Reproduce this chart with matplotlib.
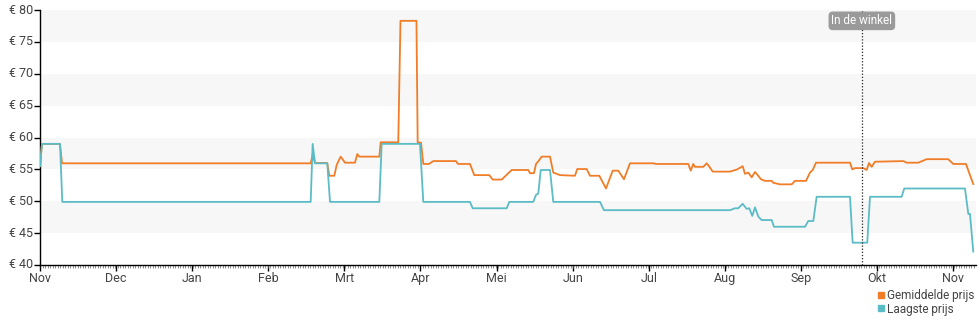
import matplotlib
matplotlib.use("Agg")
import matplotlib.pyplot as plt
from matplotlib.lines import Line2D

plt.rcParams['font.family'] = ['Roboto', 'DejaVu Sans']

# x = months since start (month ticks are evenly spaced in the source chart)
month_labels = ["Nov", "Dec", "Jan", "Feb", "Mrt", "Apr", "Mei", "Jun",
                "Jul", "Aug", "Sep", "Okt", "Nov"]

avg_x = [0.0, 0.026, 0.263, 0.289, 3.557, 3.583, 3.614, 3.775, 3.802, 3.867,
         3.899, 3.951, 4.008, 4.139, 4.170, 4.196, 4.459, 4.477, 4.708, 4.737,
         4.947, 4.963, 5.007, 5.037, 5.112, 5.168, 5.466, 5.493, 5.650, 5.707,
         5.904, 5.949, 6.067, 6.154, 6.198, 6.417, 6.439, 6.491, 6.518, 6.544,
         6.593, 6.702, 6.745, 6.833, 7.030, 7.060, 7.184, 7.227, 7.350, 7.438,
         7.526, 7.599, 7.674, 7.753, 8.059, 8.095, 8.519, 8.551, 8.585, 8.607,
         8.716, 8.761, 8.791, 8.840, 9.067, 9.163, 9.234, 9.264, 9.307, 9.352,
         9.396, 9.448, 9.474, 9.527, 9.615, 9.636, 9.724, 9.878, 9.921, 10.066,
         10.118, 10.154, 10.197, 10.644, 10.674, 10.710, 10.819, 10.863, 10.894,
         10.929, 10.972, 11.344, 11.389, 11.541, 11.652, 11.935, 12.001, 12.168,
         12.264]
avg_price = [55.5, 59.0, 59.0, 55.95, 55.95, 57.3, 56.0, 56.0, 54.0, 54.0,
             55.7, 57.0, 56.05, 56.05, 57.4, 57.0, 57.0, 59.25, 59.25, 78.3,
             78.3, 59.2, 59.2, 55.85, 55.85, 56.3, 56.3, 55.85, 55.85, 54.1,
             54.1, 53.4, 53.4, 54.4, 54.9, 54.9, 54.4, 54.4, 55.85, 56.2,
             57.0, 57.0, 54.5, 54.1, 54.0, 55.05, 55.05, 54.0, 54.0, 52.0,
             54.8, 54.8, 53.45, 55.95, 55.95, 55.85, 55.85, 54.8, 55.85, 55.4,
             55.4, 55.95, 55.5, 54.65, 54.65, 55.0, 55.5, 54.3, 54.5, 53.75,
             54.6, 53.85, 53.45, 53.2, 53.2, 52.9, 52.65, 52.65, 53.2, 53.2,
             54.5, 54.9, 56.05, 56.05, 55.0, 55.2, 55.2, 54.9, 56.0,
             55.4, 56.2, 56.3, 56.05, 56.05, 56.6, 56.6, 55.85, 55.85,
             52.7]

low_x = [0.0, 0.026, 0.263, 0.293, 3.557, 3.583, 3.614, 3.775, 3.811, 4.459,
         4.490, 4.993, 5.037, 5.650, 5.686, 6.133, 6.167, 6.482, 6.518, 6.548,
         6.580, 6.702, 6.745, 7.359, 7.411, 9.067, 9.133, 9.176, 9.234, 9.286,
         9.321, 9.360, 9.396, 9.439, 9.483, 9.615, 9.645, 10.053, 10.096, 10.162,
         10.206, 10.644, 10.679, 10.871, 10.907, 11.323, 11.357, 12.155, 12.199,
         12.221, 12.264]
low_price = [55.5, 59.0, 59.0, 49.9, 49.9, 59.0, 55.95, 55.95, 49.9, 49.9,
             59.0, 59.0, 49.9, 49.9, 48.9, 48.9, 49.9, 49.9, 51.0, 51.2,
             54.9, 54.9, 49.9, 49.9, 48.6, 48.6, 48.9, 48.9, 49.6, 48.8,
             48.9, 47.7, 49.05, 47.6, 47.05, 47.05, 46.0, 46.0, 46.9, 46.9,
             50.7, 50.7, 43.5, 43.5, 50.7, 50.7, 52.0, 52.0, 48.0,
             48.0, 42.1]

store_x = 10.80
store_label = "In de winkel"

orange = "#f07d28"
teal = "#5bbcc5"
text_col = "#444444"

fig = plt.figure(figsize=(9.8, 3.25), dpi=100)
ax = fig.add_axes([40 / 980, 60 / 325, 936 / 980, 255 / 325])

# alternating light bands
for lo in range(40, 80, 5):
    if (lo // 5) % 2 == 1:
        ax.axhspan(lo, lo + 5, color="#f7f7f7", zorder=0, lw=0)

ax.plot(avg_x, avg_price, color=orange, lw=1.3, zorder=3)
ax.plot(low_x, low_price, color=teal, lw=1.3, zorder=3)

ax.axvline(store_x, color="#222222", lw=0.9, ls=(0, (1, 1.5)), zorder=4)
ax.text(store_x, 78.3, store_label, ha="center", va="center", fontsize=8.5,
        color="white", zorder=5,
        bbox=dict(boxstyle="round,pad=0.18,rounding_size=0.3",
                  fc="#9a9a9a", ec="#9a9a9a"))

ax.set_xlim(0, 12.30)
ax.set_ylim(40, 80)

ax.set_yticks(range(40, 81, 5))
ax.set_yticklabels([f"€ {v}" for v in range(40, 81, 5)])
ax.set_xticks(range(len(month_labels)))
ax.set_xticklabels(month_labels)
ax.set_xticks([i / 30.4 for i in range(0, 374)], minor=True)

ax.tick_params(axis="both", which="major", labelsize=9, colors="black",
               labelcolor=text_col, length=4, width=1, pad=1)
ax.tick_params(axis="x", which="minor", length=2, width=0.5, color="#666666")
for lab in ax.get_yticklabels():
    lab.set_verticalalignment("center")

for side in ("top", "right"):
    ax.spines[side].set_visible(False)
for side in ("left", "bottom"):
    ax.spines[side].set_color("black")
    ax.spines[side].set_linewidth(1)

handles = [Line2D([], [], color=orange, marker="s", ls="none", markersize=5),
           Line2D([], [], color=teal, marker="s", ls="none", markersize=5)]
fig.legend(handles, ["Gemiddelde prijs", "Laagste prijs"],
           loc="lower left", bbox_to_anchor=(868 / 980, 0.0), frameon=False,
           fontsize=8.5, handlelength=0.6, handletextpad=0.2,
           labelspacing=0.05, borderpad=0.3, labelcolor=text_col)

fig.savefig("out.png", dpi=100)
